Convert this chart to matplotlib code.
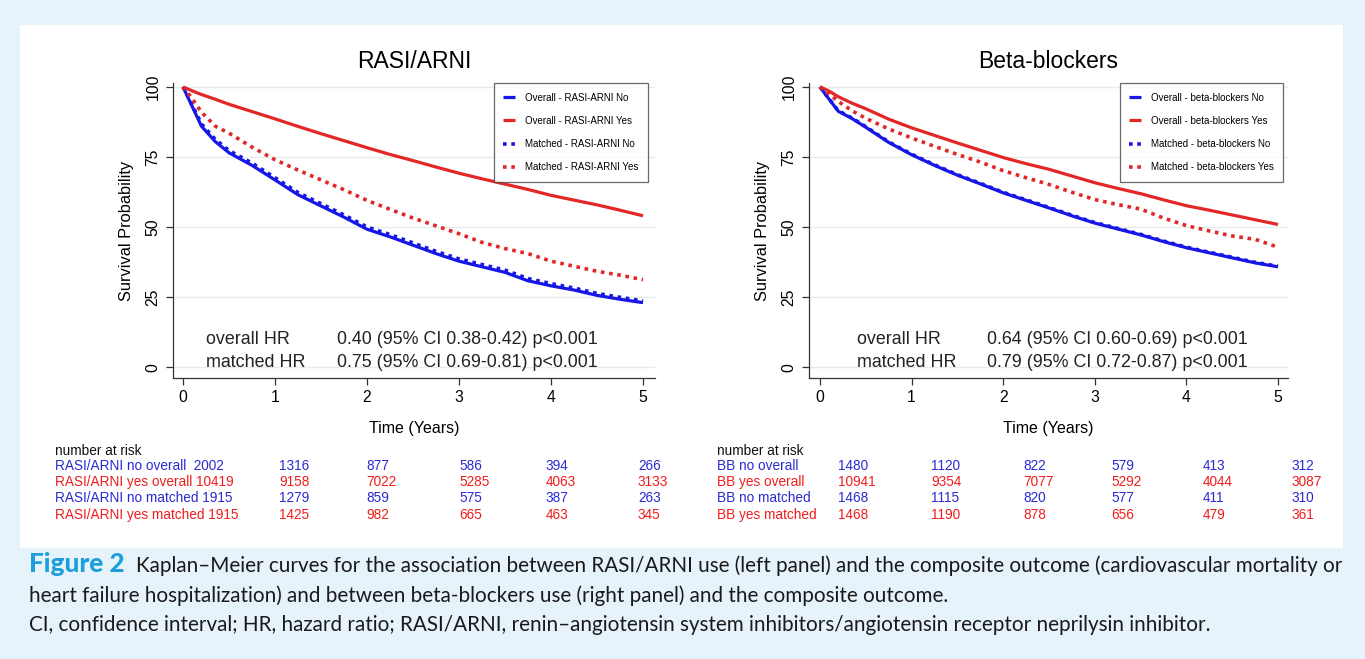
import matplotlib.pyplot as plt
import matplotlib.patches as mpatches

# ---- data -------------------------------------------------------------
years = [0, 0.1, 0.2, 0.35, 0.5, 0.75, 1.0, 1.25, 1.5, 1.75, 2.0, 2.25, 2.5,
         2.75, 3.0, 3.25, 3.5, 3.75, 4.0, 4.25, 4.5, 4.75, 5.0]

rasi_overall_no = [100, 93, 86, 80.5, 76.5, 72, 66.8, 61.5, 57.5, 53.5, 49.2, 46.5,
                   43.5, 40.5, 37.8, 35.8, 33.8, 30.8, 29, 27.5, 25.6, 24.2, 23]
rasi_overall_yes = [100, 98.6, 97.3, 95.6, 93.8, 91.2, 88.6, 85.9, 83.3, 80.8, 78.3,
                    75.9, 73.7, 71.4, 69.2, 67.2, 65.3, 63.4, 61.3, 59.6, 57.9, 56, 54]
rasi_matched_no = [100, 93.5, 86.8, 81.3, 77.3, 72.8, 67.6, 62.3, 58.3, 54.3, 50,
                   47.3, 44.3, 41.3, 38.6, 36.6, 34.6, 31.6, 29.8, 28.2, 26.3, 24.9, 23.6]
rasi_matched_yes = [100, 95.8, 91, 86, 83.5, 78.5, 74, 70.3, 66.8, 63.3, 59.5, 56.3,
                    53.2, 50.4, 47.6, 44.5, 42.3, 40.5, 37.8, 36, 34.2, 32.8, 31.2]

bb_overall_no = [100, 95.6, 91.3, 88.7, 85.6, 80.2, 75.8, 72, 68.5, 65.4, 62.2, 59.5,
                 56.8, 54, 51.4, 49.3, 47.2, 44.8, 42.6, 40.8, 39, 37.2, 35.8]
bb_overall_yes = [100, 98.5, 96.5, 94.2, 92.2, 88.5, 85.4, 82.7, 80, 77.4, 74.8, 72.6,
                  70.6, 68.2, 65.8, 63.8, 61.9, 59.7, 57.6, 56, 54.3, 52.6, 50.9]
bb_matched_no = [100, 95.7, 91.5, 88.9, 85.8, 80.4, 76, 72.2, 68.7, 65.6, 62.4, 59.7,
                 57, 54.2, 51.6, 49.5, 47.4, 45, 42.8, 41, 39.2, 37.4, 36]
bb_matched_yes = [100, 97.5, 94.8, 91.5, 88.8, 85, 81.8, 78.8, 75.9, 73.2, 70.1, 67.6,
                  65.2, 62.4, 59.8, 58, 56.4, 53.2, 50.5, 48.6, 46.8, 45.6, 42.8]

rasi_labels = ['Overall - RASI-ARNI No', 'Overall - RASI-ARNI Yes',
               'Matched - RASI-ARNI No', 'Matched - RASI-ARNI Yes']
bb_labels = ['Overall - beta-blockers No', 'Overall - beta-blockers Yes',
             'Matched - beta-blockers No', 'Matched - beta-blockers Yes']

rasi_hr = [('overall HR', '0.40 (95% CI 0.38-0.42) p<0.001'),
           ('matched HR', '0.75 (95% CI 0.69-0.81) p<0.001')]
bb_hr = [('overall HR', '0.64 (95% CI 0.60-0.69) p<0.001'),
         ('matched HR', '0.79 (95% CI 0.72-0.87) p<0.001')]

rasi_risk_rows = ['RASI/ARNI no overall  2002', 'RASI/ARNI yes overall 10419',
                  'RASI/ARNI no matched 1915', 'RASI/ARNI yes matched 1915']
rasi_risk = [[1316, 877, 586, 394, 266],
             [9158, 7022, 5285, 4063, 3133],
             [1279, 859, 575, 387, 263],
             [1425, 982, 665, 463, 345]]
bb_risk_rows = ['BB no overall', 'BB yes overall', 'BB no matched', 'BB yes matched']
bb_risk = [[1480, 1120, 822, 579, 413, 312],
           [10941, 9354, 7077, 5292, 4044, 3087],
           [1468, 1115, 820, 577, 411, 310],
           [1468, 1190, 878, 656, 479, 361]]

caption_lines = [
    'Kaplan\u2013Meier curves for the association between RASI/ARNI use (left panel) and the composite outcome (cardiovascular mortality or',
    'heart failure hospitalization) and between beta-blockers use (right panel) and the composite outcome.',
    'CI, confidence interval; HR, hazard ratio; RASI/ARNI, renin\u2013angiotensin system inhibitors/angiotensin receptor neprilysin inhibitor.',
]

# ---- style ------------------------------------------------------------
BLUE = '#1616e6'
RED = '#e32626'
TXT_BLUE = '#2a2ad2'
TXT_RED = '#f21c1c'
W, H = 1365, 659

plt.rcParams['font.family'] = ['Liberation Sans', 'DejaVu Sans']

fig = plt.figure(figsize=(W / 100, H / 100), dpi=100)
fig.patch.set_facecolor('#e6f3fa')
fig.patches.append(mpatches.Rectangle((20 / W, 1 - 548 / H), 1323 / W, 523 / H,
                                      transform=fig.transFigure, facecolor='white',
                                      edgecolor='none', zorder=-10))


def km_panel(rect, xlim, title, curves, labels, hr, lab_x, val_x, leg_x):
    ax = fig.add_axes(rect)
    ax.set_facecolor('none')
    styles = [(BLUE, '-'), (RED, '-'), (BLUE, (0, (1, 1.3))), (RED, (0, (1, 1.3)))]
    for vals, (c, ls), lab in zip(curves, styles, labels):
        lw = 2.3 if ls == '-' else 2.6
        ax.plot(years, vals, color=c, linestyle=ls, lw=lw, label=lab,
                solid_capstyle='butt', dash_capstyle='butt')
    ax.set_xlim(*xlim)
    ax.set_ylim(-3.9, 101.4)
    ax.set_xticks(range(6))
    ax.set_yticks([0, 25, 50, 75, 100])
    ax.set_yticklabels(['0', '25', '50', '75', '100'], rotation=90, va='center')
    ax.tick_params(labelsize=11.3, length=5, width=0.9, color='#333333')
    ax.tick_params(axis='y', pad=4)
    ax.tick_params(axis='x', pad=4)
    ax.grid(axis='y', color='#e4ecef', lw=1)
    ax.set_axisbelow(True)
    for s in ['top', 'right']:
        ax.spines[s].set_visible(False)
    for s in ['left', 'bottom']:
        ax.spines[s].set_color('#333333')
        ax.spines[s].set_linewidth(0.9)
    ax.set_title(title, fontsize=16.5, pad=11)
    ax.set_ylabel('Survival Probability', fontsize=11.8, labelpad=8)
    ax.set_xlabel('Time (Years)', fontsize=11.5, labelpad=11)
    leg = ax.legend(loc='upper right', bbox_to_anchor=(leg_x, 1.0), fontsize=7.0,
                    frameon=True, fancybox=False, edgecolor='#444444',
                    handlelength=1.2, handletextpad=1.0, labelspacing=1.35,
                    borderpad=1.0, borderaxespad=0)
    leg.get_frame().set_linewidth(0.9)
    for (lab, val), y in zip(hr, [0.132, 0.054]):
        ax.text(lab_x, y, lab, transform=ax.transAxes, fontsize=12.9, va='center', color='#222222')
        ax.text(val_x, y, val, transform=ax.transAxes, fontsize=12.9, va='center', color='#222222')
    return ax


km_panel([173 / W, 1 - 378 / H, 482 / W, 295 / H], (-0.109, 5.13), 'RASI/ARNI',
         [rasi_overall_no, rasi_overall_yes, rasi_matched_no, rasi_matched_yes],
         rasi_labels, rasi_hr, 0.068, 0.340, 0.985)
ax_r = km_panel([809 / W, 1 - 378 / H, 479 / W, 295 / H], (-0.12, 5.11), 'Beta-blockers',
                [bb_overall_no, bb_overall_yes, bb_matched_no, bb_matched_yes],
                bb_labels, bb_hr, 0.100, 0.372, 0.99)

# ---- number at risk tables -------------------------------------------
row_y = [466, 482, 498, 515]
row_col = [TXT_BLUE, TXT_RED, TXT_BLUE, TXT_RED]
RFS = 9.8


def fx(px):
    return px / W


def fy(py):
    return 1 - py / H


fig.text(fx(55), fy(451), 'number at risk', fontsize=RFS, va='center', color='#111111')
for lab, counts, y, c in zip(rasi_risk_rows, rasi_risk, row_y, row_col):
    fig.text(fx(55), fy(y), lab, fontsize=RFS, va='center', color=c)
    for n, x in zip(counts, [279, 366, 459, 546, 638]):
        fig.text(fx(x), fy(y), str(n), fontsize=RFS, va='center', color=c)

fig.text(fx(717), fy(451), 'number at risk', fontsize=RFS, va='center', color='#111111')
for lab, counts, y, c in zip(bb_risk_rows, bb_risk, row_y, row_col):
    fig.text(fx(717), fy(y), lab, fontsize=RFS, va='center', color=c)
    for n, x in zip(counts, [838, 931, 1023, 1111, 1203, 1292]):
        fig.text(fx(x), fy(y), str(n), fontsize=RFS, va='center', color=c)

# ---- caption -----------------------------------------------------------
CFS = 14.9
CAP_FONT = ['Lato', 'DejaVu Sans']
t1 = fig.text(fx(29), fy(572), 'Figure 2', fontsize=18.8, fontweight='black',
              color='#1c9fdc', family=CAP_FONT, va='baseline')
ax_r.annotate(caption_lines[0], xy=(1, 0), xycoords=t1, xytext=(8, 0),
              textcoords='offset points', fontsize=CFS, color='#1a1a1a',
              family=CAP_FONT, va='bottom', annotation_clip=False)
for i, line in enumerate(caption_lines[1:]):
    fig.text(fx(29), fy(602 + 29 * i), line, fontsize=CFS, color='#1a1a1a',
             family=CAP_FONT, va='baseline')

fig.savefig('out.png', dpi=100, facecolor=fig.get_facecolor())
